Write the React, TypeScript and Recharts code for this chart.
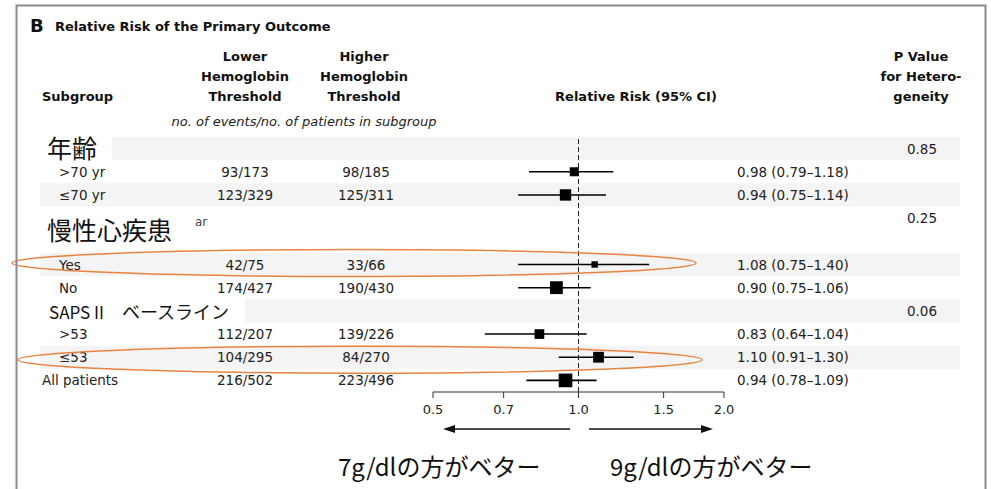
import React from "react";
import { ComposedChart, Scatter, XAxis, YAxis, ErrorBar, ReferenceLine } from "recharts";

// ---------- data ----------
const subgroups = ["年齢", ">70 yr", "≤70 yr", "慢性心疾患", "", "Yes", "No", "SAPS II|ベースライン", ">53", "≤53", "All patients"];
const rowTypes = ["header", "item", "item", "header", "blank", "item", "item", "header", "item", "item", "total"];
const lowerThreshold = ["", "93/173", "123/329", "", "", "42/75", "174/427", "", "112/207", "104/295", "216/502"];
const higherThreshold = ["", "98/185", "125/311", "", "", "33/66", "190/430", "", "139/226", "84/270", "223/496"];
const relativeRisk = [null, 0.98, 0.94, null, null, 1.08, 0.9, null, 0.83, 1.1, 0.94];
const ciLower = [null, 0.79, 0.75, null, null, 0.75, 0.75, null, 0.64, 0.91, 0.78];
const ciUpper = [null, 1.18, 1.14, null, null, 1.4, 1.06, null, 1.04, 1.3, 1.09];
const pHeterogeneity = ["0.85", "", "", "0.25", "", "", "", "0.06", "", "", ""];
const xTicks = [0.5, 0.7, 1.0, 1.5, 2.0];
const highlightedSubgroups = ["Yes", "≤53"];

// ---------- layout / style ----------
const W = 991;
const H = 489;
const ROW_H = 23.2;
const shadedRows = [true, false, true, false, false, true, false, true, false, true, false];
const bandStartForHeader: Record<number, number> = { 0: 112, 7: 245 };
const TXT = "DejaVu Sans";
const CJK = "Noto Sans CJK JP";

const parseN = (s: string) => {
  const p = s.split("/");
  return p.length === 2 ? Number(p[1]) : 0;
};

const rows = subgroups.map((label, i) => ({
  row: i,
  x: 1,
  label,
  type: rowTypes[i],
  lower: lowerThreshold[i],
  higher: higherThreshold[i],
  rr: relativeRisk[i],
  lo: ciLower[i],
  hi: ciUpper[i],
  p: pHeterogeneity[i],
  n: parseN(lowerThreshold[i]) + parseN(higherThreshold[i]),
}));

const forestData = rows
  .filter((r) => r.rr != null)
  .map((r) => ({
    ...r,
    x: r.rr as number,
    ci: [(r.rr as number) - (r.lo as number), (r.hi as number) - (r.rr as number)],
  }));

const highlightData = forestData.filter((r) => highlightedSubgroups.includes(r.label));

const RowShape = (props: any) => {
  const { cy, payload } = props;
  const r = payload;
  const i = r.row as number;
  const y = cy as number;
  const bandX = r.type === "header" && bandStartForHeader[i] != null ? bandStartForHeader[i] : 40;
  const common = { fontFamily: TXT, fontSize: 13.5, fill: "#222", dominantBaseline: "central" as const };
  let labelEl: React.ReactNode = null;
  if (r.type === "header") {
    if (r.label.includes("|")) {
      const [a, b] = r.label.split("|");
      labelEl = (
        <g>
          <text x={49} y={y + 1} fontFamily={CJK} fontSize={17} fill="#111" dominantBaseline="central">{a}</text>
          <text x={122} y={y} fontFamily={CJK} fontSize={18} fill="#111" dominantBaseline="central">{b}</text>
        </g>
      );
    } else {
      const off = i === 0 ? -2 : 11;
      labelEl = (
        <g>
          <text x={47} y={y + off} fontFamily={CJK} fontSize={25} fill="#111" dominantBaseline="central">{r.label}</text>
          {i === 3 && (
            <text x={195} y={y + 4} fontFamily={TXT} fontSize={12} fill="#444" dominantBaseline="central">ar</text>
          )}
        </g>
      );
    }
  } else if (r.type !== "blank") {
    labelEl = (
      <text x={r.type === "total" ? 42 : 59} y={y} {...common}>{r.label}</text>
    );
  }
  const rrText =
    r.rr != null ? `${(r.rr as number).toFixed(2)} (${(r.lo as number).toFixed(2)}–${(r.hi as number).toFixed(2)})` : "";
  return (
    <g>
      {shadedRows[i] && (
        <rect x={bandX} y={y - ROW_H / 2} width={960 - bandX} height={ROW_H} fill="rgba(0,0,0,0.045)" />
      )}
      {labelEl}
      {r.lower && <text x={245} y={y} textAnchor="middle" {...common}>{r.lower}</text>}
      {r.higher && <text x={366} y={y} textAnchor="middle" {...common}>{r.higher}</text>}
      {rrText && <text x={737} y={y} {...common}>{rrText}</text>}
      {r.p && <text x={937} y={y} textAnchor="end" {...common}>{r.p}</text>}
    </g>
  );
};

const SquareShape = (props: any) => {
  const { cx, cy, payload } = props;
  const s = 2 + 0.37 * Math.sqrt(payload.n);
  return <rect x={cx - s / 2} y={cy - s / 2} width={s} height={s} fill="#000" />;
};

const EllipseShape = (props: any) => {
  const { cy, payload } = props;
  const first = payload.label === highlightedSubgroups[0];
  const cx = first ? 354 : 360;
  const dy = first ? -1.5 : 2.5;
  return <ellipse cx={cx} cy={cy + dy} rx={342} ry={13.5} fill="none" stroke="#e8843f" strokeWidth={1.5} />;
};

const Overlay = () => (
  <svg width={W} height={H} style={{ position: "absolute", left: 0, top: 0, pointerEvents: "none" }}>
    <path d="M16.5,489 V5.5 H985.5 V489" fill="none" stroke="#8a8a8a" strokeWidth={2} />
    <text x={30} y={32} fontFamily={TXT} fontWeight="bold" fontSize={18} fill="#111">B</text>
    <text x={55} y={31} fontFamily={TXT} fontWeight="bold" fontSize={13} fill="#111">Relative Risk of the Primary Outcome</text>
    <g fontFamily={TXT} fontWeight="bold" fontSize={13} fill="#111" textAnchor="middle">
      <text x={245} y={61}>Lower</text>
      <text x={245} y={81}>Hemoglobin</text>
      <text x={245} y={101}>Threshold</text>
      <text x={364} y={61}>Higher</text>
      <text x={364} y={81}>Hemoglobin</text>
      <text x={364} y={101}>Threshold</text>
      <text x={636} y={101}>Relative Risk (95% CI)</text>
      <text x={921} y={61}>P Value</text>
      <text x={921} y={81}>for Hetero-</text>
      <text x={921} y={101}>geneity</text>
      <text x={42} y={101} textAnchor="start">Subgroup</text>
    </g>
    <text x={304} y={126} textAnchor="middle" fontFamily={TXT} fontStyle="italic" fontSize={13} fill="#222">
      no. of events/no. of patients in subgroup
    </text>
    <g stroke="#111" strokeWidth={1.3}>
      <line x1={570} y1={429} x2={452} y2={429} />
      <line x1={589} y1={429} x2={704} y2={429} />
    </g>
    <polygon points="443,429 455,425 455,433" fill="#111" />
    <polygon points="713,429 701,425 701,433" fill="#111" />
    <text x={338} y={476} fontFamily={CJK} fontSize={24} fill="#111">7g/dlの方がベター</text>
    <text x={610} y={476} fontFamily={CJK} fontSize={24} fill="#111">9g/dlの方がベター</text>
  </svg>
);

export default function App() {
  return (
    <div style={{ position: "absolute", left: 0, top: 0, width: W, height: H, background: "#fff" }}>
      <ComposedChart width={W} height={H} margin={{ top: 137, right: 267, bottom: 67, left: 433 }}>
        <YAxis type="number" dataKey="row" domain={[-0.5, 10.5]} reversed hide />
        <XAxis
          type="number"
          dataKey="x"
          scale="log"
          domain={[0.5, 2]}
          ticks={xTicks}
          interval={0}
          height={30}
          tickSize={6}
          tickMargin={7}
          tickFormatter={(v: number) => v.toFixed(1)}
          tick={{ fontFamily: TXT, fontSize: 13, fill: "#222" }}
          axisLine={{ stroke: "#333", strokeWidth: 1 }}
          tickLine={{ stroke: "#333", strokeWidth: 1 }}
        />
        <Scatter data={rows} shape={RowShape} isAnimationActive={false} />
        <ReferenceLine x={1} stroke="#222" strokeDasharray="5 3" strokeWidth={1} ifOverflow="visible" />
        <Scatter data={forestData} shape={SquareShape} isAnimationActive={false}>
          <ErrorBar dataKey="ci" direction="x" width={0} stroke="#000" strokeWidth={1.6} isAnimationActive={false} />
        </Scatter>
        <Scatter data={highlightData} shape={EllipseShape} isAnimationActive={false} />
      </ComposedChart>
      <Overlay />
    </div>
  );
}
